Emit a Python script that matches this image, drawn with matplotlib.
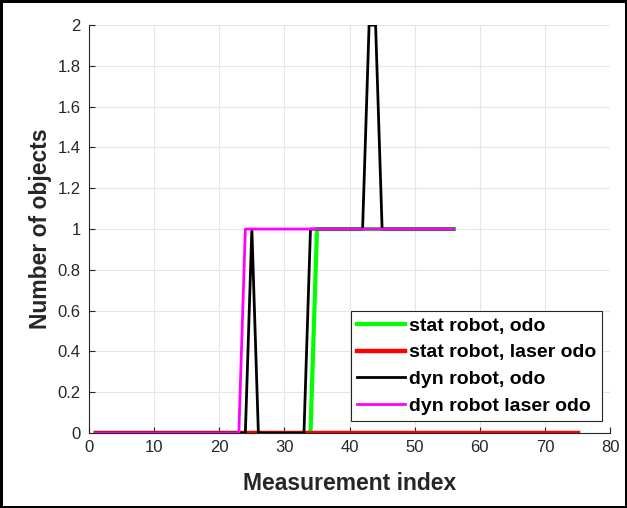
#Recreating the "number of objects per measurement" plot (MATLAB style look)
import matplotlib.pyplot as plt
import numpy as np

#x values (measurement index) for the short runs and the long red run
idx_short = list(range(1, 57))
idx_long = list(range(1, 76))

#number of detected objects for each run
stat_odo = [0, 0, 0, 0, 0, 0, 0, 0, 0, 0, 0, 0, 0, 0,
            0, 0, 0, 0, 0, 0, 0, 0, 0, 0, 0, 0, 0, 0,
            0, 0, 0, 0, 0, 0, 1, 1, 1, 1, 1, 1, 1, 1,
            1, 1, 1, 1, 1, 1, 1, 1, 1, 1, 1, 1, 1, 1]
stat_laser = [0] * 75
dyn_odo = [0, 0, 0, 0, 0, 0, 0, 0, 0, 0, 0, 0, 0, 0,
           0, 0, 0, 0, 0, 0, 0, 0, 0, 0, 1, 0, 0, 0,
           0, 0, 0, 0, 0, 1, 1, 1, 1, 1, 1, 1, 1, 1,
           2, 2, 1, 1, 1, 1, 1, 1, 1, 1, 1, 1, 1, 1]
dyn_laser = [0, 0, 0, 0, 0, 0, 0, 0, 0, 0, 0, 0, 0, 0,
             0, 0, 0, 0, 0, 0, 0, 0, 0, 1, 1, 1, 1, 1,
             1, 1, 1, 1, 1, 1, 1, 1, 1, 1, 1, 1, 1, 1,
             1, 1, 1, 1, 1, 1, 1, 1, 1, 1, 1, 1, 1, 1]

labels = ['stat robot, odo', 'stat robot, laser odo', 'dyn robot, odo', 'dyn robot laser odo']

plt.rcParams['font.family'] = ['Liberation Sans', 'DejaVu Sans']

fig = plt.figure(figsize=(6.27, 5.08), dpi=100, edgecolor='black', linewidth=2.5)
ax = fig.add_axes([0.142, 0.1476, 0.831, 0.803])

ax.plot(idx_short, stat_odo, color='#00ff00', lw=3, label=labels[0])
ax.plot(idx_long, stat_laser, color='#ff0000', lw=3.2, label=labels[1])
ax.plot(idx_short, dyn_odo, color='black', lw=2, label=labels[2])
ax.plot(idx_short, dyn_laser, color='#ff00ff', lw=2, label=labels[3])

ax.set_xlim(0, 80)
ax.set_ylim(0, 2)
ax.set_xticks(np.arange(0, 81, 10))
ax.set_yticks(np.arange(0, 2.01, 0.2))
ax.set_yticklabels(['0', '0.2', '0.4', '0.6', '0.8', '1', '1.2', '1.4', '1.6', '1.8', '2'])
ax.grid(True, color='#e6e6e6', lw=0.8)
ax.set_axisbelow(True)

#MATLAB look: box off, ticks pointing in, grey tick labels
for s in ['top', 'right']:
    ax.spines[s].set_visible(False)
for s in ['left', 'bottom']:
    ax.spines[s].set_color('#262626')
    ax.spines[s].set_linewidth(0.8)
ax.tick_params(direction='in', length=4, colors='#262626', labelsize=12)
ax.tick_params(axis='x', pad=5)
ax.tick_params(axis='y', pad=6)

ax.set_xlabel('Measurement index', fontsize=16.5, fontweight='bold', color='#262626', labelpad=12)
ax.set_ylabel('Number of objects', fontsize=16.5, fontweight='bold', color='#262626', labelpad=4)

leg = ax.legend(loc='lower right', bbox_to_anchor=(0.985, 0.03), fancybox=False,
                edgecolor='#262626', framealpha=1, handlelength=2.5, handletextpad=0.2,
                labelspacing=0.47, borderaxespad=0, borderpad=0.3,
                prop={'weight': 'bold', 'size': 14})
leg.get_frame().set_linewidth(0.8)

fig.savefig('out.png', dpi=100)
